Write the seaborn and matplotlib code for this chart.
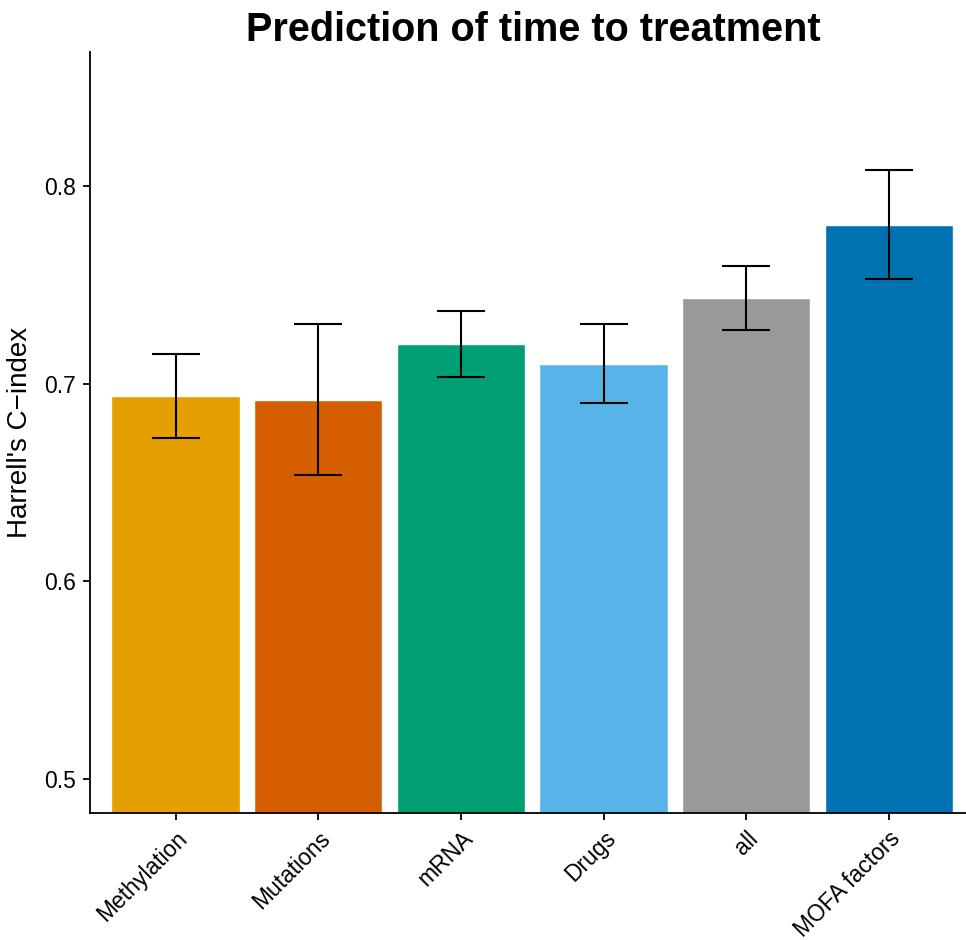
import matplotlib
matplotlib.use("Agg")
import matplotlib.pyplot as plt
import seaborn as sns
import pandas as pd

categories = ["Methylation", "Mutations", "mRNA", "Drugs", "all", "MOFA factors"]
cindex = [0.6937, 0.6915, 0.7203, 0.7101, 0.7432, 0.7804]
err_low = [0.6726, 0.6535, 0.7035, 0.6904, 0.7270, 0.7529]
err_high = [0.7152, 0.7300, 0.7370, 0.7300, 0.7595, 0.8083]
colors = ["#E69F00", "#D55E00", "#009E73", "#56B4E9", "#999999", "#0072B2"]
yticks = [0.5, 0.6, 0.7, 0.8]

df = pd.DataFrame({"view": categories, "cindex": cindex,
                   "low": err_low, "high": err_high})

sns.set_theme(style="ticks")
plt.rcParams["font.family"] = ["Liberation Sans", "DejaVu Sans"]
plt.rcParams["text.color"] = "black"
plt.rcParams["axes.labelcolor"] = "black"

fig = plt.figure(figsize=(9.66, 9.40), dpi=100)
ax = fig.add_axes([90 / 966, (940 - 813) / 940, (966 - 90) / 966, (813 - 52) / 940])

sns.barplot(data=df, x="view", y="cindex", hue="view", palette=colors,
            order=categories, hue_order=categories, width=0.9,
            saturation=1, legend=False, errorbar=None, ax=ax)

xpos = list(range(len(categories)))
yerr = [[c - l for c, l in zip(cindex, err_low)],
        [h - c for c, h in zip(cindex, err_high)]]
ax.errorbar(xpos, cindex, yerr=yerr, fmt="none", ecolor="black",
            elinewidth=1.5, capsize=17.5, capthick=1.5, zorder=5)

ax.set_ylim(0.4826, 0.8679)
ax.set_xlim(-0.6, 5.54)
ax.set_yticks(yticks)
ax.set_yticklabels([f"{t:.1f}" for t in yticks])
ax.set_xlabel("")
ax.set_ylabel("Harrell's C\u2212index", fontsize=20, labelpad=8, color="black")
ax.set_title("Prediction of time to treatment", fontsize=28.5, fontweight="bold",
             pad=8, color="black", x=0.5065)

for s in ["top", "right"]:
    ax.spines[s].set_visible(False)
for s in ["left", "bottom"]:
    ax.spines[s].set_linewidth(1.3)
    ax.spines[s].set_color("black")

ax.tick_params(axis="both", length=5, width=1.3, color="black",
               labelsize=16.5, labelcolor="black", pad=5)
plt.setp(ax.get_xticklabels(), rotation=45, ha="right", rotation_mode="anchor")

fig.savefig("out.png", dpi=100)
